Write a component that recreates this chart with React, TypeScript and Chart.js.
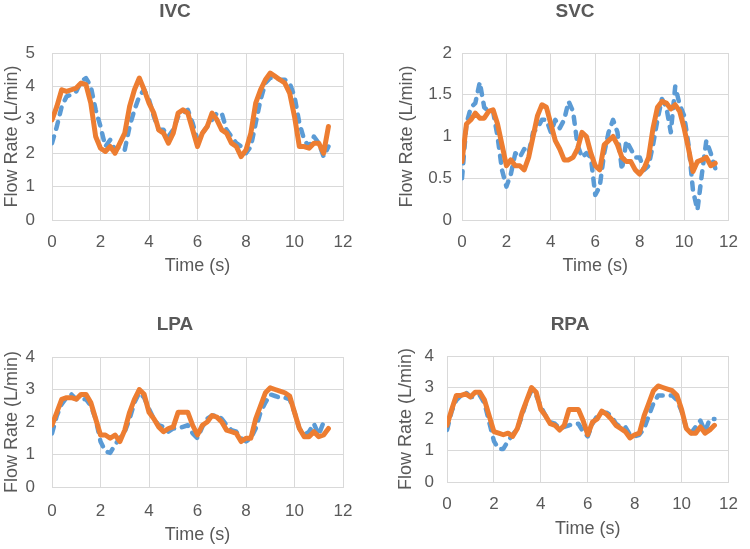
import React, { useEffect, useRef } from "react";
import { Chart, registerables } from "chart.js";

Chart.register(...registerables);

// Time axis (s)
const TIME = [
  0, 0.2, 0.4, 0.6, 0.8, 1.0, 1.2, 1.4, 1.6, 1.8,
  2.0, 2.2, 2.4, 2.6, 2.8, 3.0, 3.2, 3.4, 3.6, 3.8,
  4.0, 4.2, 4.4, 4.6, 4.8, 5.0, 5.2, 5.4, 5.6, 5.8,
  6.0, 6.2, 6.4, 6.6, 6.8, 7.0, 7.2, 7.4, 7.6, 7.8,
  8.0, 8.2, 8.4, 8.6, 8.8, 9.0, 9.2, 9.4, 9.6, 9.8,
  10.0, 10.2, 10.4, 10.6, 10.8, 11.0, 11.2, 11.4,
];

// IVC (L/min)
const IVC_ORANGE = [
  3.0, 3.4, 3.9, 3.85, 3.9, 3.95, 4.1, 4.05, 3.5, 2.5,
  2.15, 2.05, 2.2, 2.0, 2.3, 2.6, 3.4, 3.9, 4.25, 3.9,
  3.5, 3.2, 2.7, 2.6, 2.3, 2.6, 3.2, 3.3, 3.2, 2.7,
  2.2, 2.6, 2.8, 3.2, 3.0, 2.7, 2.6, 2.3, 2.2, 1.9,
  2.1, 2.6, 3.5, 3.9, 4.2, 4.4, 4.3, 4.2, 4.1, 3.8,
  3.1, 2.2, 2.2, 2.15, 2.3, 2.3, 2.0, 2.8,
];
const IVC_BLUE = [
  2.3, 2.8, 3.4, 3.7, 3.75, 3.85, 4.15, 4.25, 4.0, 3.3,
  2.8, 2.2, 2.4, 2.1, 2.2, 2.1, 2.8, 3.3, 3.7, 3.9,
  3.6, 3.1, 2.7, 2.7, 2.5, 2.7, 3.1, 3.2, 3.3, 2.9,
  2.4, 2.6, 2.8, 3.0, 3.2, 3.2, 2.7, 2.5, 2.3, 2.2,
  2.0, 2.2, 2.9, 3.6, 4.1, 4.25, 4.25, 4.2, 4.2, 4.1,
  3.7, 2.9, 2.4, 2.2, 2.5, 2.3, 1.9, 2.2,
];

// SVC (L/min)
const SVC_ORANGE = [
  0.7, 1.15, 1.2, 1.28, 1.22, 1.22, 1.3, 1.32, 1.15, 0.9,
  0.65, 0.72, 0.65, 0.65, 0.6, 0.75, 1.0, 1.25, 1.38, 1.35,
  1.15, 0.95, 0.85, 0.72, 0.72, 0.75, 0.85, 1.05, 1.0, 0.8,
  0.65, 0.6, 0.9, 0.95, 1.0, 0.9, 0.75, 0.7, 0.7, 0.6,
  0.55, 0.62, 0.75, 1.1, 1.35, 1.42, 1.4, 1.33, 1.38, 1.3,
  1.1, 0.85, 0.58, 0.7, 0.72, 0.75, 0.65, 0.68,
];
const SVC_BLUE = [
  0.5, 1.15, 1.35, 1.4, 1.65, 1.35, 1.3, 1.3, 1.0, 0.6,
  0.4, 0.55, 0.8, 0.75, 0.85, 0.8, 1.05, 1.1, 1.2, 1.2,
  1.05, 1.2, 1.1, 1.2, 1.42, 1.3, 0.9, 0.75, 0.8, 0.75,
  0.3, 0.4, 0.8, 1.05, 1.2, 1.05, 0.6, 0.95, 0.85, 0.75,
  0.75, 0.6, 0.65, 0.9, 1.2, 1.45, 1.35, 1.05, 1.6, 1.38,
  1.25, 0.9, 0.35, 0.12, 0.55, 0.95, 0.8, 0.62,
];

// LPA (L/min)
const LPA_ORANGE = [
  1.9, 2.3, 2.7, 2.75, 2.75, 2.7, 2.85, 2.85, 2.6, 2.1,
  1.6, 1.6, 1.5, 1.6, 1.4, 1.75, 2.3, 2.7, 3.0, 2.85,
  2.3, 2.1, 1.85, 1.7, 1.8, 1.85, 2.3, 2.3, 2.3, 1.9,
  1.6, 1.9, 2.0, 2.2, 2.15, 2.0, 1.75, 1.7, 1.65, 1.4,
  1.5, 1.5, 2.1, 2.5, 2.9, 3.05, 3.0, 2.95, 2.9, 2.8,
  2.3, 1.8, 1.55, 1.55, 1.7, 1.55, 1.6, 1.8,
];
const LPA_BLUE = [
  1.65, 2.2, 2.55, 2.75, 2.85, 2.7, 2.7, 2.7, 2.5, 2.1,
  1.4, 1.1, 1.05, 1.3, 1.5, 1.7, 2.1, 2.6, 2.9, 2.75,
  2.4, 2.1, 1.9, 1.85, 1.7, 1.8, 1.8, 1.85, 1.9, 1.65,
  1.5, 1.85, 2.1, 2.2, 2.2, 2.1, 1.9, 1.75, 1.7, 1.5,
  1.4, 1.5, 1.8, 2.3, 2.6, 2.85, 2.8, 2.75, 2.75, 2.7,
  2.3, 1.8, 1.6, 1.7, 1.95, 1.6, 2.0, 2.0,
];

// RPA (L/min)
const RPA_ORANGE = [
  1.8, 2.3, 2.75, 2.75, 2.8, 2.7, 2.85, 2.85, 2.6, 2.1,
  1.6, 1.55, 1.5, 1.55, 1.45, 1.7, 2.2, 2.6, 3.0, 2.85,
  2.3, 2.1, 1.85, 1.8, 1.65, 1.8, 2.3, 2.3, 2.3, 1.95,
  1.5, 1.9, 2.0, 2.25, 2.15, 2.0, 1.8, 1.7, 1.6, 1.4,
  1.5, 1.55, 2.1, 2.5, 2.9, 3.05, 3.0, 2.95, 2.9, 2.75,
  2.3, 1.7, 1.55, 1.55, 1.75, 1.55, 1.65, 1.8,
];
const RPA_BLUE = [
  1.65, 2.25, 2.6, 2.75, 2.85, 2.7, 2.7, 2.75, 2.5, 1.9,
  1.3, 1.05, 1.05, 1.3, 1.5, 1.7, 2.1, 2.6, 2.9, 2.75,
  2.4, 2.1, 1.9, 1.85, 1.7, 1.75, 1.8, 1.85, 1.85, 1.6,
  1.45, 1.85, 2.1, 2.2, 2.2, 2.1, 1.85, 1.75, 1.75, 1.5,
  1.45, 1.5, 1.7, 2.1, 2.5, 2.75, 2.75, 2.75, 2.75, 2.6,
  2.25, 1.7, 1.55, 1.75, 1.95, 1.6, 2.0, 2.0,
];

const TITLES = ["IVC", "SVC", "LPA", "RPA"];
const Y_MAX = [5, 2, 4, 4];
const Y_STEP = [1, 0.5, 1, 1];
const X_MAX = 12;
const X_STEP = 2;
const X_TITLE = "Time (s)";
const Y_TITLE = "Flow Rate (L/min)";

const W = 750;
const H = 549;
const FONT = "'Liberation Sans', Arial, Helvetica, sans-serif";
const TEXT = "#595959";
const GRID = "#D9D9D9";
const ORANGE = "#ED7D31";
const BLUE = "#5B9BD5";

const LAYOUTS = [
  { pad: { left: 7, right: 407, top: 0, bottom: 272 }, yW: 45, xH: 57, yTitlePad: -5.8, yTickPad: 17, xTickPad: 12, titleBottom: 30.2 },
  { pad: { left: 413, right: 13, top: 0, bottom: 272 }, yW: 49, xH: 57, yTitlePad: -16.8, yTickPad: 10, xTickPad: 12, titleBottom: 30.2 },
  { pad: { left: 7, right: 407, top: 313.6, bottom: 3 }, yW: 45, xH: 59, yTitlePad: -5.8, yTickPad: 17, xTickPad: 14, titleBottom: 20.6 },
  { pad: { left: 402, right: 12, top: 313.6, bottom: 9 }, yW: 45, xH: 58, yTitlePad: -6.8, yTickPad: 13, xTickPad: 12, titleBottom: 19.6 },
];

const SERIES = [
  [IVC_ORANGE, IVC_BLUE],
  [SVC_ORANGE, SVC_BLUE],
  [LPA_ORANGE, LPA_BLUE],
  [RPA_ORANGE, RPA_BLUE],
];

function toPoints(vals: number[]) {
  return vals.map((v, i) => ({ x: TIME[i], y: v }));
}

function fmt(v: any) {
  return String(Math.round(Number(v) * 100) / 100);
}

function makeConfig(i: number): any {
  const L = LAYOUTS[i];
  const [orange, blue] = SERIES[i];
  return {
    type: "line",
    data: {
      datasets: [
        {
          label: "orange",
          data: toPoints(orange),
          borderColor: ORANGE,
          backgroundColor: ORANGE,
          borderWidth: 5,
          pointRadius: 0,
          tension: 0,
          borderJoinStyle: "round",
          borderCapStyle: "round",
          fill: false,
        },
        {
          label: "blue",
          data: toPoints(blue),
          borderColor: BLUE,
          backgroundColor: BLUE,
          borderWidth: 4.5,
          borderDash: [7, 8],
          borderCapStyle: "round",
          borderJoinStyle: "round",
          pointRadius: 0,
          tension: 0,
          fill: false,
        },
      ],
    },
    options: {
      responsive: false,
      animation: false,
      devicePixelRatio: 1,
      layout: { padding: L.pad },
      plugins: {
        legend: { display: false },
        tooltip: { enabled: false },
        title: {
          display: true,
          text: TITLES[i],
          color: TEXT,
          font: { family: FONT, size: 19, weight: "bold", lineHeight: 1.2 },
          padding: { top: 0, bottom: L.titleBottom },
        },
      },
      scales: {
        x: {
          type: "linear",
          min: 0,
          max: X_MAX,
          afterFit: (s: any) => { s.height = L.xH; },
          ticks: {
            stepSize: X_STEP,
            color: TEXT,
            padding: L.xTickPad,
            maxRotation: 0,
            callback: fmt,
            font: { family: FONT, size: 17, lineHeight: 1.2 },
          },
          grid: { color: GRID, lineWidth: 1, drawTicks: false },
          border: { color: GRID, width: 1 },
          title: {
            display: true,
            text: X_TITLE,
            color: TEXT,
            font: { family: FONT, size: 18, lineHeight: 1.2 },
            padding: { top: 0, bottom: 0 },
          },
        },
        y: {
          min: 0,
          max: Y_MAX[i],
          afterFit: (s: any) => { s.width = L.yW; },
          ticks: {
            stepSize: Y_STEP[i],
            color: TEXT,
            padding: L.yTickPad,
            callback: fmt,
            font: { family: FONT, size: 17, lineHeight: 1.2 },
          },
          grid: { color: GRID, lineWidth: 1, drawTicks: false },
          border: { color: GRID, width: 1 },
          title: {
            display: true,
            text: Y_TITLE,
            color: TEXT,
            font: { family: FONT, size: 18, lineHeight: 1.2 },
            padding: { top: L.yTitlePad, bottom: 0 },
          },
        },
      },
    },
  };
}

export default function App() {
  const refs = [useRef<HTMLCanvasElement>(null), useRef<HTMLCanvasElement>(null), useRef<HTMLCanvasElement>(null), useRef<HTMLCanvasElement>(null)];
  useEffect(() => {
    const charts = refs.map((r, i) => new Chart(r.current as HTMLCanvasElement, makeConfig(i)));
    return () => charts.forEach((c) => c.destroy());
  }, []);
  return (
    <div style={{ position: "fixed", left: 0, top: 0, width: W, height: H, background: "#fff", overflow: "hidden" }}>
      {refs.map((r, i) => (
        <canvas key={i} ref={r} width={W} height={H} style={{ position: "absolute", left: 0, top: 0, width: W, height: H }} />
      ))}
    </div>
  );
}
